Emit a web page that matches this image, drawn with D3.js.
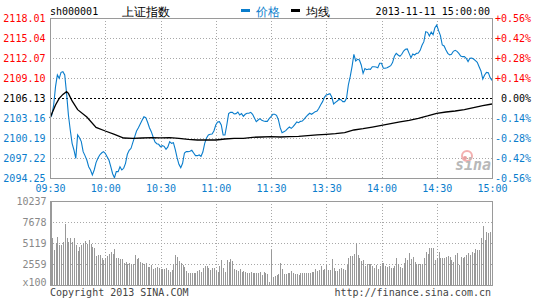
<!DOCTYPE html>
<html><head><meta charset="utf-8">
<script src="https://cdn.jsdelivr.net/npm/d3@7/dist/d3.min.js"></script>
<style>
html,body{margin:0;padding:0;background:#fff;}
svg{display:block;}
text{font-family:"DejaVu Sans Mono","Liberation Mono",monospace;}
</style></head>
<body>
<script>
// ---------- data ----------
const symbol = "sh000001";
const indexName = "上证指数";
const legendNames = ["价格", "均线"];
const dateLabel = "2013-11-11 15:00:00";
const preClose = 2106.13;
const priceTickValues = [2094.25, 2097.22, 2100.19, 2103.16, 2106.13, 2109.10, 2112.07, 2115.04, 2118.01];
const pctLabels = ["-0.56%", "-0.42%", "-0.28%", "-0.14%", "0.00%", "+0.14%", "+0.28%", "+0.42%", "+0.56%"];
const timeLabels = ["09:30", "10:00", "10:30", "11:00", "11:30", "13:30", "14:00", "14:30", "15:00"];
const timeTickMinutes = [0, 30, 60, 90, 120, 150, 180, 210, 240];
const volTickValues = [0, 2559, 5119, 7678, 10237];
const volTickLabels = ["x100", "2559", "5119", "7678", "10237"];

// price per trading minute (0 = 09:30, 120 = 11:30/13:00, 240 = 15:00)
const price = [
2103.11,2103.61,2105.09,2107.81,2109.55,2109.05,2109.94,2110.04,2109.55,2106.82,
2103.61,2101.38,2099.40,2098.41,2097.17,2100.64,2100.24,2099.65,2098.16,2097.57,
2096.92,2095.93,2095.44,2094.70,2095.44,2096.53,2097.17,2097.67,2097.96,2098.16,
2097.91,2097.42,2096.92,2095.93,2094.89,2094.30,2095.19,2095.19,2095.93,2095.44,
2095.69,2096.43,2097.77,2098.36,2098.66,2099.55,2100.39,2101.23,2101.72,2102.27,
2102.81,2103.36,2103.21,2102.52,2101.72,2101.13,2100.34,2099.60,2099.35,2099.25,
2098.90,2099.05,2098.95,2098.51,2098.86,2099.65,2099.40,2099.50,2098.51,2097.27,
2096.28,2095.79,2096.43,2097.96,2098.16,2098.16,2098.21,2098.36,2097.96,2097.57,
2097.57,2097.67,2097.47,2098.11,2099.40,2100.19,2100.64,2100.74,2100.78,2101.23,
2102.12,2102.57,2102.62,2102.12,2100.64,2100.64,2102.12,2103.81,2104.00,2104.00,
2103.76,2103.81,2104.05,2103.61,2103.81,2103.41,2103.71,2103.86,2103.86,2104.00,
2103.71,2103.16,2102.62,2102.86,2103.06,2102.81,2102.71,2102.66,2102.66,2103.06,
2103.36,2103.71,2103.71,2103.56,2102.91,2101.72,2100.98,2101.13,2101.28,2101.58,
2101.82,2101.62,2101.87,2102.22,2102.57,2102.47,2102.66,2102.71,2103.01,2103.31,
2103.61,2103.86,2103.71,2103.90,2104.10,2104.20,2104.60,2105.14,2105.59,2106.23,
2106.58,2106.67,2106.77,2106.28,2105.24,2105.49,2105.69,2105.93,2105.88,2105.59,
2105.59,2106.08,2108.06,2109.30,2110.78,2112.62,2111.63,2111.87,2111.77,2111.03,
2109.79,2110.49,2110.34,2110.44,2110.39,2110.78,2110.78,2110.73,2110.63,2111.28,
2111.28,2110.54,2110.54,2110.63,2110.78,2110.93,2111.38,2112.32,2112.76,2112.52,
2112.32,2112.62,2113.11,2113.36,2113.41,2112.76,2112.12,2112.66,2112.52,2112.76,
2112.81,2113.21,2113.95,2114.50,2115.98,2115.88,2115.34,2115.93,2115.54,2116.58,
2116.97,2116.13,2115.39,2114.00,2113.85,2113.26,2112.76,2112.52,2112.62,2113.06,
2113.21,2113.06,2112.76,2112.37,2112.27,2112.27,2112.02,2111.53,2112.02,2112.07,
2111.92,2111.67,2111.43,2110.78,2110.14,2108.95,2109.55,2109.94,2109.89,2109.15,
2108.75
];

// average line, read at these minutes
const avgMinutes = [0,3,5,7,9,10,12,15,20,25,30,35,40,45,50,55,60,65,70,75,80,85,90,95,100,105,110,115,120,
  125,130,135,140,145,150,155,160,165,170,175,180,185,190,195,200,205,210,215,220,225,230,235,240];
const avgPrice = [2103.16,2105.09,2106.08,2106.67,2107.07,2106.82,2105.69,2104.40,2103.31,2101.77,2101.23,2100.74,
  2100.19,2100.14,2100.19,2100.24,2100.22,2100.24,2100.14,2099.99,2099.89,2099.89,2099.89,2100.04,2100.14,2100.14,
  2100.29,2100.34,2100.39,2100.34,2100.39,2100.44,2100.54,2100.64,2100.74,2100.83,2100.98,2101.38,2101.58,2101.82,
  2102.07,2102.32,2102.57,2102.81,2103.11,2103.46,2103.86,2104.05,2104.20,2104.40,2104.70,2104.99,2105.24];

// volume (x100) per minute
const volume = [
4793,5768,4265,5078,5890,4874,4874,5199,7393,5768,
5281,5768,5281,5768,4874,4143,4631,4874,5078,5362,
4956,5524,4956,4590,4549,3534,3656,3656,3331,3047,
3250,3534,3778,3981,3737,4387,3250,3250,3209,3128,
2640,2843,2518,2640,2518,2559,3656,3128,3250,2843,
2640,2518,2640,2234,2234,2437,1950,2112,2234,2112,
1950,1950,1950,2031,1828,1625,1828,2518,3656,3412,
2925,2640,2437,2234,1706,1503,1422,1503,1503,1503,
1706,1828,1625,2031,2315,2315,2031,1828,2031,2112,
1706,1544,2356,3047,2031,1544,3047,2843,3168,2925,
1950,1828,1706,1950,1625,1706,1544,1503,1503,1625,
1422,1503,1422,1503,1544,1219,1544,1422,1300,325,
4265,
1016,1056,1219,1300,2640,1950,1340,1300,1462,1462,
1665,1422,1381,1381,1219,1422,1422,1422,1422,1422,
1422,1544,1544,1909,1747,1828,2315,1828,1909,2518,
1828,1828,3168,2031,1706,1706,1950,2031,1950,1828,
2437,3331,3575,3575,3737,5078,3656,3250,2925,3047,
2356,2518,2518,2518,2356,2031,2437,1950,2356,2640,
2640,2356,2234,2356,2112,2031,2356,3250,2518,2234,
2112,2640,3250,3047,3859,3168,3453,2843,2518,2518,
2518,2518,3250,3981,3737,4549,4468,4468,3047,3250,
4062,3250,3331,3331,3453,3575,3453,3047,2843,3656,
3859,2437,3453,3250,3453,3656,3859,3656,3981,3859,
4387,4265,4265,5768,7190,5484,6418,6296,6418,7433
];

// ---------- drawing ----------
const W = 545, H = 300;
const L = 50, R = 492;
const pTop = 18, pBot = 178, vTop = 201, vBot = 285;
const BLUE = "#0a7dcc", RED = "#ff0000", GRID = "#a8a8a8", BORDER = "#9a9a9a";

const svg = d3.select("body").append("svg").attr("width", W).attr("height", H);

const x = d3.scaleLinear().domain([0, 240]).range([L, R]);
const y = d3.scaleLinear().domain([priceTickValues[0], priceTickValues[8]]).range([pBot, pTop]);
const yv = d3.scaleLinear().domain([0, 10237]).range([vBot, vTop]);

// grids
const grid = svg.append("g").attr("shape-rendering", "crispEdges");
priceTickValues.slice(1, 8).forEach(v => {
  const yy = Math.round(y(v)) + 0.5;
  grid.append("line").attr("x1", L).attr("x2", R).attr("y1", yy).attr("y2", yy)
    .attr("stroke", v === preClose ? "#000" : GRID)
    .attr("stroke-dasharray", v === preClose ? "2,2" : "1,2");
});
volTickValues.slice(1, 4).forEach(v => {
  const yy = Math.round(yv(v)) + 0.5;
  grid.append("line").attr("x1", L).attr("x2", R).attr("y1", yy).attr("y2", yy)
    .attr("stroke", GRID).attr("stroke-dasharray", "1,2");
});
timeTickMinutes.slice(1, 8).forEach(m => {
  const xx = Math.round(x(m)) + 0.5;
  [[pTop, pBot], [vTop, vBot]].forEach(([a, b]) => {
    grid.append("line").attr("x1", xx).attr("x2", xx).attr("y1", a).attr("y2", b)
      .attr("stroke", GRID).attr("stroke-dasharray", "1,2");
  });
});

// watermark
const wm = svg.append("g");
wm.append("circle").attr("cx", 467).attr("cy", 156).attr("r", 5)
  .attr("fill", "none").attr("stroke", "#f3b0b0").attr("stroke-width", 2);
wm.append("circle").attr("cx", 465).attr("cy", 158).attr("r", 2).attr("fill", "#e8a0a0");
wm.append("text").attr("x", 455).attr("y", 170).text("sina")
  .attr("font-family", "Verdana, 'DejaVu Sans', sans-serif").attr("font-style", "italic")
  .attr("font-weight", "bold").attr("font-size", 15).attr("fill", "#b8b8b8");

// volume bars
svg.append("g").attr("shape-rendering", "crispEdges").selectAll("rect").data(volume).join("rect")
  .attr("x", (d, i) => Math.round(x(i)) + (i === 0 ? 1 : 0))
  .attr("width", 1)
  .attr("y", d => yv(d))
  .attr("height", d => vBot - yv(d))
  .attr("fill", "#999");

// lines
const line = d3.line().x((d, i) => x(i)).y(d => y(d));
svg.append("path").datum(price).attr("d", line)
  .attr("fill", "none").attr("stroke", BLUE).attr("stroke-width", 1.1);
const avgLine = d3.line().x((d, i) => x(avgMinutes[i])).y(d => y(d));
svg.append("path").datum(avgPrice).attr("d", avgLine)
  .attr("fill", "none").attr("stroke", "#000").attr("stroke-width", 1.3);

// borders
const bd = svg.append("g").attr("shape-rendering", "crispEdges").attr("fill", "none").attr("stroke", BORDER);
bd.append("rect").attr("x", L + 0.5).attr("y", pTop + 0.5).attr("width", R - L).attr("height", pBot - pTop);
bd.append("rect").attr("x", L + 0.5).attr("y", vTop + 0.5).attr("width", R - L).attr("height", vBot - vTop);
bd.append("line").attr("x1", L + 1.5).attr("x2", L + 1.5).attr("y1", vTop).attr("y2", vBot).attr("stroke-width", 1);

// axes
function styleAxis(g) {
  g.select(".domain").remove();
  g.selectAll(".tick line").remove();
  g.selectAll("text").attr("font-family", "'DejaVu Sans Mono', monospace").attr("font-size", 10);
}
const colorFor = v => v > preClose ? RED : (v < preClose ? BLUE : "#000");

const axL = svg.append("g").attr("transform", `translate(${L - 0.5},0)`)
  .call(d3.axisLeft(y).tickValues(priceTickValues).tickSize(0).tickPadding(4).tickFormat(d3.format(".2f")));
styleAxis(axL);
axL.selectAll("text").attr("fill", d => colorFor(d));

const axR = svg.append("g").attr("transform", `translate(${R},0)`)
  .call(d3.axisRight(y).tickValues(priceTickValues).tickSize(0).tickPadding(0)
    .tickFormat((d, i) => pctLabels[i]));
styleAxis(axR);
axR.selectAll("text").attr("text-anchor", "end").attr("x", 39).attr("fill", d => colorFor(d));

const axB = svg.append("g").attr("transform", `translate(0,${pBot})`)
  .call(d3.axisBottom(x).tickValues(timeTickMinutes).tickSize(0).tickPadding(7)
    .tickFormat((d, i) => timeLabels[i]));
styleAxis(axB);
axB.selectAll("text").attr("fill", BLUE);

const axV = svg.append("g").attr("transform", `translate(${L - 0.5},0)`)
  .call(d3.axisLeft(yv).tickValues(volTickValues).tickSize(0).tickPadding(3)
    .tickFormat((d, i) => volTickLabels[i]));
styleAxis(axV);
axV.selectAll("text").attr("fill", "#888").attr("dy", (d, i) => i === 0 ? "0.0em" : "0.32em");

// header
svg.append("text").attr("x", 50).attr("y", 15).attr("font-size", 10).attr("fill", "#000").text(symbol);
svg.append("text").attr("x", 122).attr("y", 16).attr("font-size", 12)
  .attr("font-family", "'Noto Sans CJK SC', sans-serif").attr("fill", "#000").text(indexName);
svg.append("rect").attr("x", 241).attr("y", 9).attr("width", 9).attr("height", 3).attr("fill", BLUE);
svg.append("text").attr("x", 256).attr("y", 16).attr("font-size", 12)
  .attr("font-family", "'Noto Sans CJK SC', sans-serif").attr("fill", BLUE).text(legendNames[0]);
svg.append("rect").attr("x", 291).attr("y", 9).attr("width", 9).attr("height", 3).attr("fill", "#000");
svg.append("text").attr("x", 306).attr("y", 16).attr("font-size", 12)
  .attr("font-family", "'Noto Sans CJK SC', sans-serif").attr("fill", "#000").text(legendNames[1]);
svg.append("text").attr("x", 490).attr("y", 15).attr("font-size", 10).attr("text-anchor", "end")
  .attr("fill", "#000").text(dateLabel);

// footer
svg.append("text").attr("x", 50).attr("y", 296).attr("font-size", 10).attr("fill", "#444")
  .text("Copyright 2013 SINA.COM");
svg.append("text").attr("x", 491).attr("y", 296).attr("font-size", 10).attr("fill", "#444")
  .attr("text-anchor", "end").text("http://finance.sina.com.cn");
</script>
</body></html>
